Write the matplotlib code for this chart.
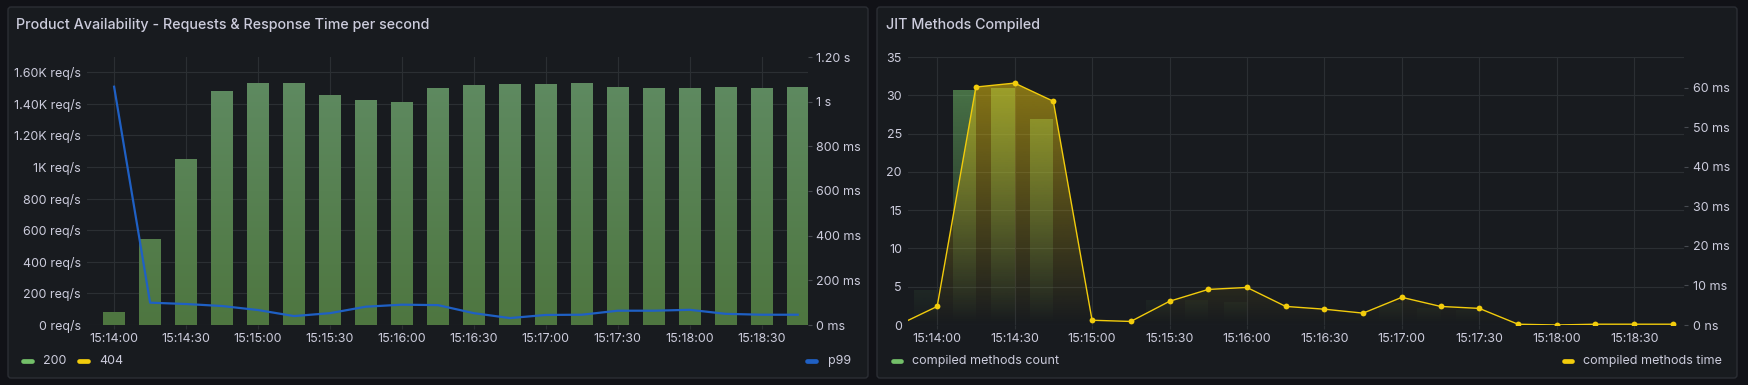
import numpy as np
import matplotlib
matplotlib.use("Agg")
import matplotlib.pyplot as plt
from matplotlib.patches import FancyBboxPatch
from matplotlib.lines import Line2D
from matplotlib.transforms import IdentityTransform

plt.rcParams['font.family'] = ['Inter', 'DejaVu Sans']

# ---------------- data ----------------
bar_times = ["15:14:00", "15:14:15", "15:14:30", "15:14:45", "15:15:00", "15:15:15",
             "15:15:30", "15:15:45", "15:16:00", "15:16:15", "15:16:30", "15:16:45",
             "15:17:00", "15:17:15", "15:17:30", "15:17:45", "15:18:00", "15:18:15",
             "15:18:30", "15:18:45"]
req_200 = [82, 544, 1050, 1480, 1530, 1530, 1455, 1423, 1410, 1499,
           1518, 1524, 1524, 1530, 1505, 1499, 1499, 1505, 1499, 1505]
p99_s = [1.067, 0.100, 0.094, 0.085, 0.067, 0.040, 0.053, 0.082, 0.091, 0.089,
         0.053, 0.031, 0.045, 0.046, 0.064, 0.064, 0.068, 0.050, 0.046, 0.046]

jit_times = ["15:13:45", "15:14:00", "15:14:15", "15:14:30", "15:14:45", "15:15:00",
             "15:15:15", "15:15:30", "15:15:45", "15:16:00", "15:16:15", "15:16:30",
             "15:16:45", "15:17:00", "15:17:15", "15:17:30", "15:17:45", "15:18:00",
             "15:18:15", "15:18:30", "15:18:45"]
jit_count = [0, 4.6, 30.7, 31.0, 26.9, 0, 0, 3.3, 3.3, 3.0, 0,
             0, 1.1, 2.9, 2.2, 2.0, 0, 0, 0, 0, 0]
jit_time_ms = [0.0, 4.7, 60.2, 61.2, 56.6, 1.2, 0.9, 6.0, 9.0, 9.5, 4.7,
               4.0, 3.0, 7.0, 4.7, 4.2, 0.2, 0.0, 0.2, 0.2, 0.2]

x_tick_labels = ["15:14:00", "15:14:30", "15:15:00", "15:15:30", "15:16:00",
                 "15:16:30", "15:17:00", "15:17:30", "15:18:00", "15:18:30"]

req_ticks = [0, 200, 400, 600, 800, 1000, 1200, 1400, 1600]
req_tick_labels = ["0 req/s", "200 req/s", "400 req/s", "600 req/s", "800 req/s",
                   "1K req/s", "1.20K req/s", "1.40K req/s", "1.60K req/s"]
lat_ticks = [0, 0.2, 0.4, 0.6, 0.8, 1.0, 1.2]
lat_tick_labels = ["0 ms", "200 ms", "400 ms", "600 ms", "800 ms", "1 s", "1.20 s"]
cnt_ticks = [0, 5, 10, 15, 20, 25, 30, 35]
ms_ticks = [0, 10, 20, 30, 40, 50, 60]
ms_tick_labels = ["0 ns", "10 ms", "20 ms", "30 ms", "40 ms", "50 ms", "60 ms"]

# ---------------- helpers ----------------
W, H, DPI = 1749, 385, 100
BASE = 15 * 3600 + 14 * 60


def secs(s):
    h, m, sec = (int(v) for v in s.split(":"))
    return h * 3600 + m * 60 + sec - BASE


TXT = '#ccccdc'
GRID = '#2b2f33'
BG = '#111217'
PANEL = '#181b1f'
GREEN = '#73BF69'
YELLOW = '#F2CC0C'
BLUE = '#1F60C4'
FS = 9.0
TFS = 10.3


def rect(x0, y0, x1, y1):
    return [x0 / W, 1 - y1 / H, (x1 - x0) / W, (y1 - y0) / H]


def px(v):
    return v * 0.72


fig = plt.figure(figsize=(W / DPI, H / DPI), dpi=DPI, facecolor=BG)

# panels
for (x0, x1) in [(8, 868), (877, 1737)]:
    p = FancyBboxPatch((x0, H - 378), x1 - x0, 378 - 7,
                       boxstyle="round,pad=0,rounding_size=3",
                       transform=IdentityTransform(), facecolor=PANEL,
                       edgecolor='#2b2e34', linewidth=1, zorder=0)
    fig.add_artist(p)

XLIM = (-11.3, 289.3)
tb = np.array([secs(t) for t in bar_times], dtype=float)
tj = np.array([secs(t) for t in jit_times], dtype=float)
xt = [secs(t) for t in x_tick_labels]


def style_axes(ax):
    ax.set_facecolor('none')
    for s in ax.spines.values():
        s.set_visible(False)
    ax.set_xlim(*XLIM)
    ax.set_xticks(xt)
    ax.set_xticklabels(x_tick_labels)
    ax.tick_params(axis='x', colors=GRID, labelcolor=TXT, labelsize=FS,
                   length=px(4), width=0.8, pad=px(3.5))
    ax.tick_params(axis='y', labelcolor=TXT, labelsize=FS, length=0, pad=px(6))
    ax.grid(True, color=GRID, linewidth=0.8)
    ax.set_axisbelow(True)


def gradient_image(ax, clip_path, clip_transform, rgb_top, rgb_bot, a_top, a_bot, z):
    x0, x1 = ax.get_xlim()
    y0, y1 = ax.get_ylim()
    n = 256
    f = np.linspace(1, 0, n)[:, None]
    img = np.zeros((n, 1, 4))
    for c in range(3):
        img[:, :, c] = rgb_bot[c] + (rgb_top[c] - rgb_bot[c]) * f
    img[:, :, 3] = a_bot + (a_top - a_bot) * f
    im = ax.imshow(img, extent=(x0, x1, y0, y1), aspect='auto', origin='upper',
                   interpolation='bilinear', zorder=z)
    im.set_clip_path(clip_path, clip_transform)
    ax.set_xlim(x0, x1)
    ax.set_ylim(y0, y1)
    return im


# ---------------- left panel ----------------
ax1 = fig.add_axes(rect(87, 57, 808, 325))
style_axes(ax1)
ax1.set_ylim(0, 1695)
ax1.set_yticks(req_ticks)
ax1.set_yticklabels(req_tick_labels)
bars = ax1.bar(tb, req_200, width=0.61 * 15, color='none', edgecolor='none', zorder=2)
top_c = np.array([96, 140, 100]) / 255
bot_c = np.array([78, 118, 64]) / 255
for b in bars:
    gradient_image(ax1, b.get_path(), b.get_transform(), top_c, bot_c, 1.0, 1.0, 2)

ax1r = ax1.twinx()
ax1r.set_facecolor('none')
for s in ax1r.spines.values():
    s.set_visible(False)
ax1r.set_ylim(0, 1.2)
ax1r.set_yticks(lat_ticks)
ax1r.set_yticklabels(lat_tick_labels)
ax1r.tick_params(axis='y', colors='#464a50', labelcolor=TXT, labelsize=FS,
                 length=px(4), width=0.8, pad=px(4.5))
ax1r.plot(tb, p99_s, color=BLUE, linewidth=1.6, zorder=3, solid_joinstyle='round')
ax1r.set_xlim(*XLIM)

fig.text(16.5 / W, 1 - 29.3 / H, "Product Availability - Requests & Response Time per second",
         color=TXT, fontsize=TFS, fontweight='medium', va='baseline', ha='left')

# ---------------- right panel ----------------
ax2 = fig.add_axes(rect(908, 57, 1684, 325))
style_axes(ax2)
ax2.set_ylim(0, 35)
ax2.set_yticks(cnt_ticks)
gbars = ax2.bar(tj, jit_count, width=-0.6 * 15, align='edge', color='none',
                edgecolor='none', zorder=2)
g = np.array([115, 191, 105]) / 255
for b in gbars:
    if b.get_height() > 0:
        gradient_image(ax2, b.get_path(), b.get_transform(), g, g, 0.6, 0.0, 2)

ax2r = ax2.twinx()
ax2r.set_facecolor('none')
for s in ax2r.spines.values():
    s.set_visible(False)
ax2r.set_ylim(0, 67.8)
ax2r.set_xlim(*XLIM)
ax2r.set_yticks(ms_ticks)
ax2r.set_yticklabels(ms_tick_labels)
ax2r.tick_params(axis='y', colors='#464a50', labelcolor=TXT, labelsize=FS,
                 length=px(4), width=0.8, pad=px(5))
poly = ax2r.fill_between(tj, 0, jit_time_ms, color='none', linewidth=0, zorder=3)
y = np.array([242, 204, 12]) / 255
gradient_image(ax2r, poly.get_paths()[0], poly.get_transform(), y, y, 0.56, 0.0, 3)
ax2r.plot(tj, jit_time_ms, color=YELLOW, linewidth=1.0, marker='o', markersize=4.2,
          markeredgewidth=0, zorder=4, clip_on=True)
ax2r.set_xlim(*XLIM)

fig.text(886.5 / W, 1 - 29.3 / H, "JIT Methods Compiled", color=TXT, fontsize=TFS,
         fontweight='medium', va='baseline', ha='left')

# ---------------- legends ----------------
def legend_item(x0, x1, color, label, yc=361):
    yf = 1 - yc / H
    fig.add_artist(Line2D([(x0 + 2.3) / W, (x1 - 2.3) / W], [yf, yf], color=color,
                          linewidth=3.4, solid_capstyle='round',
                          transform=fig.transFigure))
    fig.text((x1 + 9) / W, yf, label, color=TXT, fontsize=FS, va='center', ha='left')


legend_item(21, 34, GREEN, "200")
legend_item(77, 90, YELLOW, "404")
legend_item(805, 818.7, BLUE, "p99")
legend_item(890.7, 903.3, GREEN, "compiled methods count")
legend_item(1561.7, 1574.3, YELLOW, "compiled methods time")

fig.savefig("out.png", dpi=DPI, facecolor=BG)
